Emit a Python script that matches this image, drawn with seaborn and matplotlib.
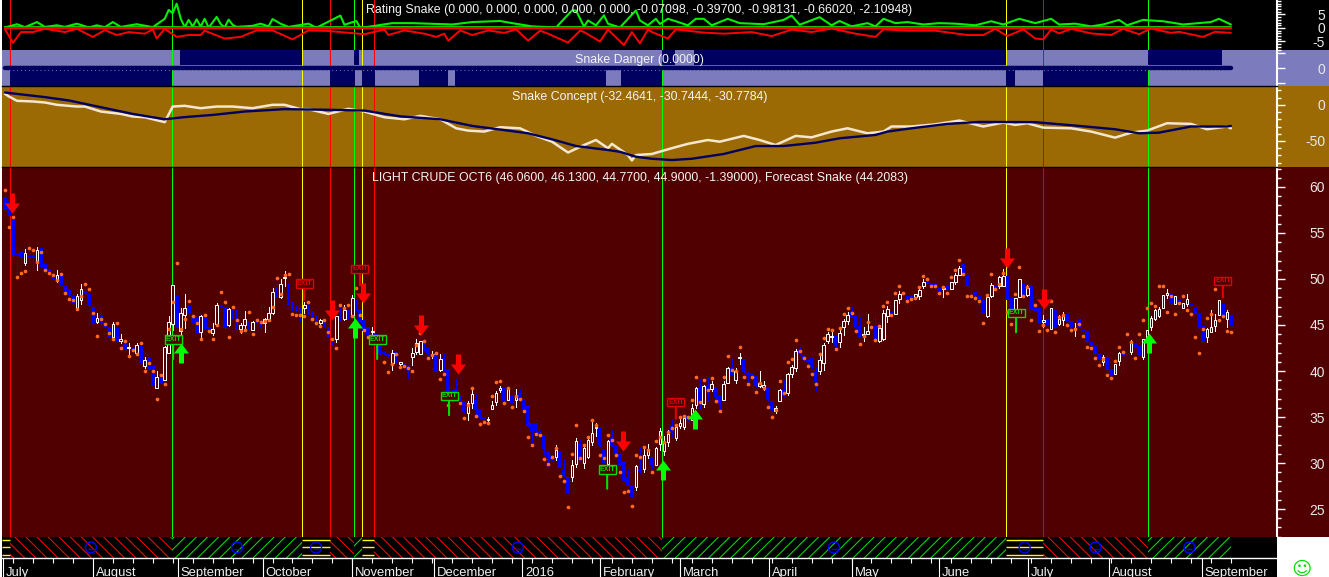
import numpy as np
import matplotlib
matplotlib.use("Agg")
import matplotlib.pyplot as plt
from matplotlib.path import Path
from matplotlib.patches import Rectangle
from matplotlib.ticker import MultipleLocator
import seaborn as sns

# candles, one per bar
opens = [
58.9,58.5,56.4,52.7,53.0,51.7,52.6,52.5,52.0,53.4,51.6,51.0,50.7,49.9,50.6,49.2,48.8,48.1,46.9,47.7,
48.7,48.4,47.0,45.3,46.1,45.2,44.8,43.7,44.7,43.3,43.4,42.5,42.5,42.0,42.7,40.5,41.4,40.5,38.2,39.7,
39.0,42.0,45.1,48.2,44.3,46.1,47.2,46.1,45.9,44.2,45.9,44.8,44.1,45.1,47.2,47.0,45.0,46.6,46.6,44.6,
45.0,45.4,44.5,45.4,45.2,45.2,45.7,46.3,49.1,48.0,50.1,49.5,47.5,47.1,47.0,46.9,47.4,46.5,46.1,45.2,
45.7,44.8,43.7,43.5,46.4,45.7,46.6,46.1,47.7,46.6,45.5,44.8,44.2,44.0,43.0,42.1,41.9,40.9,42.1,40.8,
40.8,40.4,41.5,42.1,41.8,43.3,42.5,41.8,41.8,40.1,41.4,40.2,37.8,37.9,37.4,36.7,35.4,36.5,36.9,35.8,
35.0,34.7,35.9,36.6,37.9,38.1,36.8,37.3,36.9,37.6,37.0,36.2,34.3,34.4,33.4,33.0,31.2,30.9,30.7,31.2,
29.3,28.5,28.5,29.9,32.1,30.0,30.7,32.3,33.8,33.9,31.5,29.9,32.8,31.8,31.0,30.1,28.5,27.5,27.4,29.4,
29.3,30.9,30.6,29.8,32.1,31.3,32.3,34.0,32.7,34.0,33.9,35.2,34.7,36.3,38.2,36.4,38.5,38.0,38.2,37.4,
36.9,38.7,40.3,39.0,41.4,41.3,39.8,39.8,39.5,38.4,38.3,38.2,36.7,35.6,36.7,37.9,37.6,39.7,40.3,42.3,
41.6,41.2,41.4,39.9,40.0,40.9,43.3,43.7,43.8,43.1,44.8,45.4,46.4,46.0,44.9,43.9,44.0,44.9,44.9,43.3,
43.5,46.0,46.4,46.2,47.8,48.6,48.1,48.1,48.0,48.1,49.2,49.8,49.6,49.5,49.0,48.9,49.2,48.9,49.7,50.4,
51.6,50.4,48.3,48.6,48.1,47.7,46.0,48.1,49.2,49.2,49.2,50.3,47.9,46.4,48.0,49.6,48.3,49.2,47.4,46.8,
45.3,45.7,44.6,46.6,45.1,45.5,46.2,45.4,44.6,45.7,44.5,44.3,43.2,42.7,41.9,41.0,41.5,40.2,39.7,41.1,
41.9,42.0,42.1,43.0,42.7,41.5,43.7,44.8,45.6,46.0,46.8,48.3,48.4,47.3,47.7,46.8,47.3,47.3,47.0,46.3,
44.9,43.7,44.2,44.9,46.1,47.3,45.6,46.06]
closes = [
57.5,56.8,52.6,52.5,52.3,52.8,52.4,52.3,53.1,51.3,50.8,50.8,50.0,50.4,49.2,48.4,48.2,47.4,48.1,48.9,
48.4,47.1,45.2,45.8,45.1,44.8,43.7,45.1,43.1,43.5,42.3,42.6,42.2,42.8,40.9,41.2,40.1,38.4,39.4,38.7,
42.6,45.3,49.3,44.8,46.3,46.8,46.2,45.2,44.1,46.0,44.6,44.4,44.6,47.2,47.0,44.7,46.7,45.7,44.5,45.0,
45.7,44.5,45.3,45.1,44.8,45.6,46.3,48.6,47.9,49.5,50.2,47.2,46.6,46.5,46.1,47.2,46.2,45.5,45.1,45.5,
44.8,43.7,43.2,46.0,46.1,46.6,46.1,47.9,46.5,45.3,44.3,43.8,44.4,43.0,41.9,41.9,41.6,42.0,40.9,41.0,
40.6,40.1,42.0,43.0,43.3,42.3,41.8,41.9,40.0,41.3,40.1,37.8,37.4,37.2,36.9,35.6,36.5,37.5,35.8,34.9,
34.8,34.8,36.3,37.6,38.2,36.7,38.0,36.5,37.2,36.8,35.9,34.0,33.4,33.4,33.2,31.5,30.5,30.3,31.4,29.6,
28.6,26.7,29.8,32.4,30.3,31.6,32.5,33.3,33.9,31.8,30.0,32.4,31.9,31.0,29.8,28.0,27.6,26.3,29.7,29.1,
30.9,31.5,29.8,31.6,33.5,32.3,33.2,33.4,33.9,34.4,34.9,34.7,36.0,38.1,36.6,38.4,37.9,38.6,37.1,36.5,
38.6,40.3,39.6,40.0,41.5,39.9,39.6,39.5,38.4,38.7,38.5,36.9,35.8,36.0,37.9,37.3,39.7,40.4,42.2,41.9,
41.2,41.0,40.3,38.8,41.2,42.8,44.0,43.8,42.7,44.1,45.4,46.1,45.9,44.7,43.7,44.0,44.4,44.6,43.4,44.7,
46.3,46.7,46.2,47.7,48.4,48.4,47.8,47.8,48.4,48.8,49.7,49.5,49.4,49.3,48.6,49.0,48.8,49.7,50.4,51.2,
50.4,49.2,48.1,48.1,47.8,46.3,48.0,49.4,48.6,50.2,50.3,47.7,46.4,47.9,50.0,48.3,49.0,46.6,46.5,45.2,
45.5,45.0,46.8,44.7,45.7,46.1,45.4,44.7,44.7,44.7,44.4,43.2,42.8,41.9,41.2,41.5,40.1,39.5,40.8,42.0,
41.7,41.9,43.2,42.6,41.7,43.5,44.5,45.8,46.6,46.7,48.3,48.5,47.3,48.1,47.2,47.4,47.8,47.1,46.3,44.7,
43.2,44.6,44.8,45.5,47.7,46.1,46.4,44.90]
highs = [
59.1,58.6,56.4,53.3,53.0,53.3,53.9,52.8,53.5,53.4,51.6,51.1,50.7,51.0,50.6,49.7,48.9,48.1,48.4,49.5,
48.9,48.4,47.0,46.3,46.7,45.2,44.8,45.3,44.7,44.0,43.4,43.0,42.8,43.0,42.7,41.5,41.6,40.5,40.0,39.7,
42.7,46.0,49.4,48.8,46.8,48.4,47.2,46.1,45.9,46.1,45.9,44.8,45.2,47.4,47.3,47.0,46.8,46.6,46.6,45.2,
46.5,45.4,45.4,45.4,47.1,45.8,47.0,49.0,49.1,50.0,50.9,49.5,47.5,47.1,47.0,47.5,47.4,46.5,46.1,45.6,
45.7,44.8,43.7,46.0,47.0,47.2,46.6,48.3,47.7,46.6,45.5,44.8,44.8,44.0,43.0,42.2,42.0,42.3,42.1,41.0,
40.8,40.7,42.5,43.5,43.3,43.3,42.5,42.2,41.8,41.9,42.0,40.2,37.9,39.1,37.4,36.7,36.7,38.1,37.5,35.8,
35.0,35.0,36.7,37.8,38.4,38.1,38.1,37.3,38.0,38.0,37.0,36.2,34.3,34.4,33.6,33.0,31.2,30.9,32.0,31.2,
30.4,28.5,30.3,32.7,32.5,32.1,32.9,34.7,34.4,33.9,31.5,32.5,33.6,31.8,31.0,30.1,29.3,27.5,29.8,31.6,
31.9,32.1,30.6,31.7,33.8,32.9,33.6,34.7,34.2,35.0,35.2,35.2,36.4,38.3,39.1,38.5,39.3,38.9,38.2,37.4,
38.9,40.4,41.3,40.3,42.0,41.3,40.0,39.8,39.5,40.0,38.9,38.2,36.7,36.2,38.0,39.0,39.8,40.6,42.4,42.6,
41.6,41.3,41.4,40.3,41.7,43.0,44.2,44.4,43.8,44.7,45.6,46.4,47.0,46.0,45.9,44.8,46.2,44.9,46.0,44.9,
46.6,47.1,46.4,47.7,48.7,48.6,48.1,48.1,48.4,49.0,50.0,49.8,49.6,50.1,49.0,49.2,49.2,49.7,50.6,51.4,
51.6,50.4,49.0,48.6,48.6,47.7,48.2,49.6,49.2,50.3,51.1,50.3,47.9,47.9,50.0,49.6,49.3,49.2,47.4,46.8,
46.1,45.7,46.8,46.6,46.1,46.4,46.2,45.4,45.2,45.7,44.5,44.3,43.2,42.7,41.9,41.7,41.5,40.2,40.8,42.1,
41.9,42.0,43.4,43.0,42.7,43.5,44.5,46.0,46.7,47.0,48.3,48.9,48.4,48.1,47.7,47.4,48.4,47.3,47.0,46.3,
44.9,44.7,46.6,46.2,47.7,47.3,46.6,46.13]
lows = [
57.4,56.7,52.5,50.8,51.0,51.5,52.2,51.2,51.0,51.2,50.7,50.6,50.0,49.7,49.1,48.3,48.1,47.3,46.7,47.3,
48.2,47.1,45.2,45.2,45.0,44.8,43.6,43.4,43.1,43.0,42.2,41.5,41.8,41.8,40.9,40.3,40.1,38.0,38.2,38.7,
39.0,42.0,44.5,44.8,43.4,44.7,46.2,45.1,44.1,43.4,44.6,44.4,43.9,45.0,46.9,44.7,44.9,45.7,44.5,44.1,
44.6,44.5,44.5,45.0,44.7,44.2,45.4,46.2,47.9,47.9,49.2,47.2,46.6,46.5,45.4,46.3,46.2,45.5,45.1,45.1,
44.8,43.7,42.9,43.2,45.5,45.5,45.6,46.1,46.5,45.3,44.3,43.8,43.7,43.0,41.9,41.8,41.5,40.1,40.9,40.6,
40.6,39.2,40.6,41.8,41.8,42.3,41.8,41.4,40.0,40.0,40.1,37.8,37.3,37.1,36.9,35.5,34.7,36.0,35.0,34.9,
34.8,34.3,35.9,36.3,37.7,36.7,36.8,36.5,36.1,36.8,35.9,34.0,32.3,32.9,33.0,30.9,29.7,30.3,30.3,29.6,
28.6,26.7,28.1,29.6,30.3,29.5,30.5,32.0,32.9,31.8,30.0,29.6,31.9,31.0,29.8,28.0,27.6,26.3,27.1,28.9,
29.0,30.5,29.5,29.8,31.4,30.9,31.9,32.9,32.5,33.8,33.7,34.7,34.7,36.0,36.0,36.1,36.8,37.8,37.1,35.6,
36.9,38.7,39.6,38.7,40.8,39.9,38.6,39.5,38.4,38.3,37.9,36.9,35.8,35.4,36.7,37.3,37.4,39.3,40.0,41.7,
41.2,40.9,40.3,37.8,39.7,40.1,43.0,43.1,42.7,42.6,43.9,45.1,45.9,44.7,43.7,43.3,44.0,44.6,43.4,43.1,
43.4,45.3,46.2,46.2,47.4,48.4,46.8,47.8,48.0,47.8,49.0,49.5,49.4,49.3,47.9,48.0,48.8,48.9,49.5,50.4,
50.4,49.2,47.9,48.1,47.3,46.3,45.9,48.0,48.6,49.0,49.2,46.8,46.4,46.4,48.0,48.3,48.2,46.6,46.5,45.2,
44.8,45.0,44.6,44.7,45.0,45.0,45.4,44.7,43.8,44.7,44.4,43.2,42.8,41.9,41.2,40.7,40.1,39.5,39.7,40.6,
40.1,41.9,41.9,42.6,41.7,41.3,43.7,44.5,45.5,45.9,46.8,47.9,47.3,47.3,46.4,46.8,47.1,47.1,46.3,44.7,
43.2,43.2,44.2,44.4,46.1,46.1,44.8,44.77]

# orange forecast dots
forecast = [
59.7,55.7,56.7,50.2,50.6,50.9,53.4,53.2,51.8,52.9,51.0,50.6,50.4,49.9,50.5,48.5,47.8,47.7,46.7,48.1,
49.5,48.9,46.3,43.8,45.7,45.1,44.1,43.5,45.2,42.5,43.3,41.6,42.3,41.8,43.0,40.0,40.9,40.0,37.0,39.6,
38.6,44.6,47.5,51.7,44.6,45.7,47.6,46.0,45.2,43.5,46.1,44.3,43.5,45.0,48.6,47.5,43.7,47.0,45.5,44.3,
44.5,46.4,44.0,45.5,45.3,45.4,45.5,47.0,50.1,48.4,50.4,50.5,46.2,46.1,46.1,46.0,47.5,45.6,45.2,44.9,
45.5,44.2,43.5,42.5,47.2,46.8,47.2,46.0,49.0,46.1,44.5,43.7,43.7,43.4,43.5,41.0,39.9,40.8,41.9,40.4,
40.5,40.3,40.0,42.8,44.1,43.3,41.4,41.7,42.0,39.1,39.7,36.3,37.0,37.4,36.5,34.9,36.3,38.2,35.1,34.2,
34.5,34.4,37.3,38.8,38.9,36.5,38.2,36.1,37.3,37.0,35.6,32.8,32.0,33.2,33.0,30.4,29.9,30.7,31.6,28.6,
28.0,25.2,31.0,34.1,30.5,32.0,32.8,34.7,34.1,30.9,30.5,33.0,32.5,30.9,29.0,26.9,27.0,25.3,30.9,30.6,
31.7,31.4,29.0,32.4,32.8,32.3,33.4,33.8,34.1,35.0,35.1,35.0,36.9,39.4,36.6,39.0,37.9,39.2,36.7,35.6,
39.4,41.6,40.1,40.0,42.6,39.4,38.6,39.4,37.7,38.7,38.2,36.1,35.0,35.8,38.9,37.6,41.0,41.3,43.4,42.2,
41.4,40.5,39.7,38.6,41.8,43.6,44.6,44.5,42.4,44.7,46.2,46.8,46.3,44.3,42.9,43.8,45.3,44.8,43.4,44.9,
47.1,47.5,46.1,48.5,49.2,48.5,47.6,47.8,47.9,49.1,50.3,50.0,49.2,49.2,48.5,49.1,48.5,50.2,51.0,52.1,
50.5,48.1,48.1,47.9,47.6,45.2,48.3,50.5,48.9,49.5,50.7,46.4,45.1,48.4,51.3,48.2,49.1,45.5,47.2,44.3,
45.0,44.5,47.6,44.2,45.9,46.1,45.0,44.5,44.6,45.1,43.8,42.6,42.5,41.4,40.6,41.3,39.6,39.2,41.1,42.6,
42.1,44.0,43.2,41.4,44.0,45.5,46.8,47.4,47.1,49.2,49.2,46.4,48.1,46.2,47.4,48.1,46.6,46.2,43.7,42.0,
44.6,45.8,46.2,48.9,45.5,46.0,44.3,44.2]

# rating panel (bar, value)
rating_green_x = [0,3,5,8,10,13,15,18,21,23,25,27,29,33,37,40,41,42,43,44,45,46,47,48,49,50,51,53,54,55,56,57,58,62,64,66,67,69,71,76,78,84,85,88,89,
97,102,110,112,117,124,127,132,138,142,143,145,146,148,150,151,154,158,159,161,163,164,166,168,171,173,175,177,181,184,190,195,197,199,204,207,209,212,216,218,220,
223,226,230,234,238,243,247,250,254,258,262,264,268,272,275,279,281,285,290,293,295,302,304,307]
rating_green_y = [0.2,1.4,0.3,2.2,0.4,1.0,0.4,1.6,0.2,1.0,0.3,2.2,0.4,1.4,0.3,3.4,6.7,5.5,9.0,3.5,0.3,3.0,0.5,3.2,0.5,3.4,0.1,4.1,1.5,0.2,3.1,1.2,0.4,0.8,1.6,0.6,3.3,1.6,0.4,1.6,0.1,4.6,1.2,2.6,0.0,
1.8,1.8,1.4,1.3,2.2,2.6,1.8,0.6,0.2,6.5,6.5,0.5,2.8,1.0,4.7,1.6,0.2,6.5,2.8,1.0,3.4,1.5,3.4,2.5,1.0,3.4,3.4,1.0,3.4,1.8,1.4,3.0,4.6,1.2,4.0,1.0,2.6,0.6,1.8,0.6,3.4,
1.8,2.2,1.3,1.8,1.6,1.0,2.5,1.3,3.4,1.8,3.4,1.3,1.6,0.6,1.3,3.0,1.0,3.0,2.5,1.8,1.3,2.2,3.4,1.3]
rating_red_x = [0,2,4,7,10,15,18,22,25,28,31,35,37,38,40,43,46,49,50,55,59,63,67,72,76,81,90,95,96,100,105,108,110,
111,114,117,121,125,128,131,134,136,141,144,145,149,151,155,157,159,161,162,166,168,175,180,187,192,197,202,207,213,218,220,
226,233,241,245,248,251,255,258,260,262,264,267,272,277,280,284,287,292,294,300,303,307]
rating_red_y = [-0.5,-5.5,-1.5,-1.5,-0.3,-1.5,-0.3,-3.3,-0.8,-2.6,-1.5,-2.1,-0.5,-3.9,-0.3,-3.3,-2.6,-2.6,-1.0,-3.9,-3.3,-0.9,-0.9,-4.2,-0.9,-1.1,-2.3,-0.6,-2.6,-0.9,-2.1,-3.3,-2.1,
-4.7,-0.9,-2.6,-0.9,-1.8,-0.5,-4.7,-1.0,-2.1,-5.4,-1.0,-1.5,-5.0,-0.6,-6.3,-1.5,-5.7,-0.6,-1.5,-3.9,-0.5,-1.7,-2.1,-1.5,-3.0,-0.6,-1.5,-0.2,-2.1,-3.3,-0.5,
-1.0,-1.0,-2.6,-2.6,-0.3,-3.0,-0.5,-3.9,-4.2,-0.6,-2.0,-0.3,-2.0,-2.6,-0.3,-2.3,-0.2,-1.8,-1.4,-3.3,-1.4,-1.8]

# concept panel (bar, value)
concept_white_x = [0,1,3,7,10,13,18,20,24,29,32,35,40,42,45,49,53,57,62,67,70,74,76,81,86,90,95,100,104,109,113,116,120,124,129,133,137,141,145,148,151,152,156,157,158,162,167,171,176,179,185,189,193,198,202,207,211,216,220,222,227,233,239,245,250,253,256,260,267,272,278,282,286,291,297,301,306,307]
concept_white_y = [15,11.5,5.5,4.6,3.2,0,-2.4,-2.4,-9.3,-12.6,-16.2,-17.2,-24,-2.4,-1.4,-4.7,-2.4,-2.4,-4.7,0,0,-6,-6,-12.6,-5.6,-9.3,-17.2,-20,-15.3,-20,-32.5,-35.7,-37,-31,-32.5,-43,-51,-66,-55.6,-48.7,-60,-54,-69.5,-77,-69.5,-68,-60,-54,-48.7,-51,-43,-48.7,-55.6,-43,-45,-37,-32.5,-39.4,-37,-30,-30,-27,-21.8,-30,-24.6,-27.8,-25.5,-31.5,-32.5,-37,-45.4,-38.5,-35.7,-25.5,-26.4,-33.8,-30,-32.5]
concept_navy_x = [0,10,16,24,32,40,45,52,60,70,82,90,99,109,117,126,131,137,143,151,154,158,162,167,172,180,188,195,203,209,218,221,227,236,244,258,269,278,284,289,297,306,307]
concept_navy_y = [17,10.6,6,-3.3,-12.6,-20,-17,-14,-9.3,-6,-7,-8,-16,-20,-29.2,-35.7,-39.4,-47.7,-57,-62.5,-65,-71.8,-74.6,-76.4,-74.6,-68,-57,-57,-52.4,-46.3,-41.7,-37,-32.5,-26.4,-23.7,-24,-29.2,-33.8,-39.4,-38.5,-30,-30,-29.2]

# danger panel spans (start bar, end bar)
danger_top_start = [43.8,87.4,164.5,172.6,286.3]
danger_top_end = [74.4,88.7,167.8,250.7,304.8]
danger_bottom_start = [1.25,81.4,89.4,103.7,112.7,154.3,250.7,260.0]
danger_bottom_end = [41.8,87.7,92.7,111.0,150.5,164.5,253.0,286.3]

# signals
signal_x = [1.25,41.8,74.4,81.4,87.4,89.4,92.4,164.5,250.7,260.0,286.25]
signal_colors = ["#FF0000","#00FF00","#FFFF00","#FF0000","#00FF00","#FFFF00","#FF0000","#00FF00","#FFFF00","#C01010","#00FF00"]
band_edges = [-0.75,1.25,41.8,74.4,81.4,87.4,89.4,92.4,164.5,250.7,260.0,286.25,307.0]
band_states = ["yellow","red","green","yellow","red","green","yellow","red","green","yellow","red","green"]

down_x = [1.7,81.8,89.7,104.1,113.4,154.8,251.0,260.2]
down_y = [57.2,45.5,47.4,43.9,39.7,31.3,51.2,46.7]
up_x = [44.1,87.7,164.8,172.8,286.5]
up_y = [43.0,45.8,30.3,35.9,44.1]
exit_red_x = [74.9,88.9,168.0,305.0]
exit_red_y = [47.7,49.3,34.8,48.0]
exit_green_x = [-1.5,42.1,93.2,111.2,150.8,253.2]
exit_green_y = [55.5,41.3,41.3,35.2,27.2,44.2]

month_x = [-0.5,22,43.3,64.6,86.9,107.4,129.5,149,169,191.3,212.1,233.9,256.2,276.5,299.8]
month_labels = ["July","August","September","October","November","December","2016","February","March","April","May","June","July","August","September"]

RED_BG = "#500000"
BROWN = "#9C6A04"
LIGHT = "#7B7BBD"
NAVY = "#000060"
TXT = "#F4F4F4"

sns.set_theme(style="white")
plt.rcParams["font.family"] = ["Liberation Sans", "DejaVu Sans"]
plt.rcParams["hatch.linewidth"] = 0.75
plt.rcParams["axes.unicode_minus"] = False

W, H = 1329, 577
fig = plt.figure(figsize=(W / 100, H / 100), dpi=100, facecolor="white")
xlim = (-0.75, 318.55)


def panel(top, bottom, color):
    # right strip carries the panel colour past the axis line
    fig.add_artist(Rectangle((1277 / W, 1 - bottom / H), 52 / W, (bottom - top) / H,
                             transform=fig.transFigure, facecolor=color, edgecolor="none", zorder=-5))
    ax = fig.add_axes([2 / W, 1 - bottom / H, 1275 / W, (bottom - top) / H], facecolor=color)
    ax.set_xlim(xlim)
    ax.set_xticks([])
    for s in ["left", "bottom"]:
        ax.spines[s].set_visible(False)
    ax.spines["top"].set_color("black")
    ax.spines["top"].set_linewidth(1)
    ax.spines["right"].set_color("white")
    ax.spines["right"].set_linewidth(1.5)
    ax.yaxis.tick_right()
    ax.tick_params(axis="y", which="major", right=True, length=5.8, width=1, color="white",
                   labelcolor="#E8E8E8", labelsize=10, pad=28.8, direction="out")
    ax.tick_params(axis="y", which="minor", right=True, length=2.9, width=1, color="white", direction="out")
    return ax


def draw_signals(ax):
    for x, c in zip(signal_x, signal_colors):
        ax.axvline(x, color=c, lw=0.72, zorder=1.5, antialiased=False)


def right_labels(ax):
    plt.setp(ax.get_yticklabels(), ha="right")


def line(ax, x, y, color, lw):
    sns.lineplot(x=x, y=y, ax=ax, color=color, linewidth=lw, estimator=None, errorbar=None, legend=False, zorder=3)
    ax.set_xlabel("")
    ax.set_ylabel("")


# rating
ax1 = panel(0, 50, "black")
ax1.set_ylim(-8.15, 10.37)
ax1.spines["top"].set_visible(False)
ax1.set_yticks([-5, 0, 5])
ax1.yaxis.set_minor_locator(MultipleLocator(1))
draw_signals(ax1)
line(ax1, rating_green_x, rating_green_y, "#00F000", 1.5)
line(ax1, [0, 307], [0.45, 0.45], "#00F000", 1.3)
line(ax1, rating_red_x, rating_red_y, "#FF0000", 1.4)
line(ax1, [0, 307], [0, 0], "#FF0000", 1.6)
ax1.set_xlim(xlim)
ax1.set_ylim(-8.15, 10.37)
right_labels(ax1)
ax1.text(0.5, 0.8, "Rating Snake (0.000, 0.000, 0.000, 0.000, 0.000, -0.07098, -0.39700, -0.98131, -0.66020, -2.10948)",
         transform=ax1.transAxes, ha="center", va="center", color=TXT, fontsize=8.9, zorder=6)

# danger
ax2 = panel(50, 86, LIGHT)
ax2.set_ylim(-1, 1)
ax2.spines["top"].set_visible(False)
ax2.set_yticks([-0.85, 0, 0.85])
ax2.set_yticklabels(["", "0", ""])
draw_signals(ax2)
for a, b in zip(danger_top_start, danger_top_end):
    ax2.axvspan(a, b, ymin=0.58, ymax=1, color=NAVY, lw=0, zorder=2)
for a, b in zip(danger_bottom_start, danger_bottom_end):
    ax2.axvspan(a, b, ymin=0, ymax=0.44, color=NAVY, lw=0, zorder=2)
line(ax2, [0, 307], [0.02, 0.02], NAVY, 3.2)
ax2.hlines(-0.09, 0, 307, color=LIGHT, lw=0.7, linestyles=(0, (1, 3)), zorder=4)
ax2.set_xlim(xlim)
ax2.set_ylim(-1, 1)
right_labels(ax2)
ax2.text(0.5, 0.72, "Snake Danger (0.0000)", transform=ax2.transAxes, ha="center", va="center",
         color=TXT, fontsize=8.9, zorder=6)

# concept
ax3 = panel(86, 167, BROWN)
ax3.set_ylim(-86, 26)
ax3.yaxis.set_major_locator(MultipleLocator(50))
ax3.yaxis.set_minor_locator(MultipleLocator(10))
draw_signals(ax3)
line(ax3, concept_white_x, concept_white_y, "#F5E6D0", 1.8)
line(ax3, concept_navy_x, concept_navy_y, NAVY, 1.7)
ax3.set_xlim(xlim)
ax3.set_ylim(-86, 26)
right_labels(ax3)
ax3.text(0.5, 0.86, "Snake Concept (-32.4641, -30.7444, -30.7784)", transform=ax3.transAxes,
         ha="center", va="center", color=TXT, fontsize=8.9, zorder=6)

# main price panel
ax4 = panel(167, 537, RED_BG)
ax4.set_ylim(21.96, 62.17)
ax4.yaxis.set_major_locator(MultipleLocator(5))
ax4.yaxis.set_minor_locator(MultipleLocator(1))
draw_signals(ax4)

bars = np.arange(len(closes))
o = np.array(opens)
c = np.array(closes)
hi = np.array(highs)
lo = np.array(lows)
up = c >= o
ax4.vlines(bars[~up], lo[~up], hi[~up], color="#0000FF", lw=0.72, zorder=2, antialiased=False)
ax4.bar(bars[~up], (o - c)[~up], bottom=c[~up], width=0.95, color="#0000FF", lw=0, zorder=2.2)
ax4.vlines(bars[up], lo[up], hi[up], color="white", lw=0.72, zorder=2.4, antialiased=False)
ax4.bar(bars[up], (c - o)[up], bottom=o[up], width=0.65, facecolor=RED_BG, edgecolor="white", lw=0.72, zorder=2.6)

sns.scatterplot(x=np.arange(len(forecast)), y=forecast, ax=ax4, color="#FF6A20", s=7, linewidth=0,
                marker="o", legend=False, zorder=4)
ax4.set_xlabel("")
ax4.set_ylabel("")
ax4.set_xlim(xlim)
ax4.set_ylim(21.96, 62.17)

# arrows, tip at the origin, sizes in screen pixels
down_arrow = Path([(0, 0), (-7.5, 10), (-2.5, 10), (-2.5, 20), (2.5, 20), (2.5, 10), (7.5, 10), (0, 0)], closed=True)
up_arrow = Path([(0, 0), (-7.5, -10), (-2.5, -10), (-2.5, -20), (2.5, -20), (2.5, -10), (7.5, -10), (0, 0)], closed=True)
ax4.scatter(down_x, down_y, marker=down_arrow, s=829, color="#FF0000", linewidth=0, zorder=5)
ax4.scatter(up_x, up_y, marker=up_arrow, s=829, color="#00FF00", linewidth=0, zorder=5)


def exit_flag(x, y, color, rise):
    ax4.annotate("EXIT", xy=(x, y), xytext=(0, rise), textcoords="offset points", ha="center", va="center",
                 fontsize=5, fontweight="bold", color=color, zorder=5,
                 bbox=dict(boxstyle="square,pad=0.1", facecolor=RED_BG, edgecolor=color, lw=1),
                 arrowprops=dict(arrowstyle="-", color=color, lw=1.5, shrinkA=0, shrinkB=0))


for x, y in zip(exit_red_x, exit_red_y):
    exit_flag(x, y, "#E00000", 12)
for x, y in zip(exit_green_x, exit_green_y):
    exit_flag(x, y, "#00E000", 14)

right_labels(ax4)
ax4.text(0.5, 0.97, "LIGHT CRUDE OCT6 (46.0600, 46.1300, 44.7700, 44.9000, -1.39000), Forecast Snake (44.2083)",
         transform=ax4.transAxes, ha="center", va="center", color=TXT, fontsize=8.9, zorder=6)

# state band
ax5 = fig.add_axes([2 / W, 1 - 558 / H, 1275 / W, 21 / H], facecolor="black")
ax5.set_xlim(xlim)
ax5.set_ylim(0, 1)
ax5.set_xticks([])
ax5.set_yticks([])
for s in ax5.spines.values():
    s.set_visible(False)
for a, b, st in zip(band_edges[:-1], band_edges[1:], band_states):
    if st == "red":
        ax5.axvspan(a, b, facecolor="black", edgecolor="#FF0000", hatch="\\\\\\", lw=0)
    elif st == "green":
        ax5.axvspan(a, b, facecolor="black", edgecolor="#00E000", hatch="///", lw=0)
    else:
        ax5.hlines([0.14, 0.52, 0.88], a, b, color="#FFFF00", lw=1)
    if b - a > 6:
        mid = (a + b) / 2
        ax5.scatter([mid], [0.5], s=62, facecolor="none", edgecolor="#0000FF", lw=1, zorder=4)
        ax5.scatter([mid], [0.45], s=22, marker="_", color="#0000FF", lw=1, zorder=4)

# date axis
ax6 = fig.add_axes([2 / W, 1 - 577 / H, 1275 / W, 19 / H], facecolor="black")
ax6.set_xlim(xlim)
ax6.set_ylim(0, 1)
ax6.set_yticks([])
for s in ["left", "right", "bottom"]:
    ax6.spines[s].set_visible(False)
ax6.spines["top"].set_color("white")
ax6.spines["top"].set_linewidth(1)
ax6.xaxis.tick_top()
ax6.set_xticks(month_x)
ax6.set_xticklabels([])
ax6.set_xticks(np.arange(2, 310, 5), minor=True)
ax6.tick_params(axis="x", which="major", top=True, direction="in", length=13.7, width=0.8, color="white")
ax6.tick_params(axis="x", which="minor", top=True, direction="in", length=3.6, width=0.8, color="white")
for x, lab in zip(month_x, month_labels):
    ax6.annotate(lab, xy=(x, 0.22), xytext=(2, 0), textcoords="offset points", ha="left", va="center",
                 color="#F0F0F0", fontsize=9.4)

fig.text(1302 / W, 1 - 569 / H, "\u263a", color="#00E000", fontsize=14, ha="center", va="center",
         family="DejaVu Sans")

fig.savefig("out.png", dpi=100, facecolor="white")
